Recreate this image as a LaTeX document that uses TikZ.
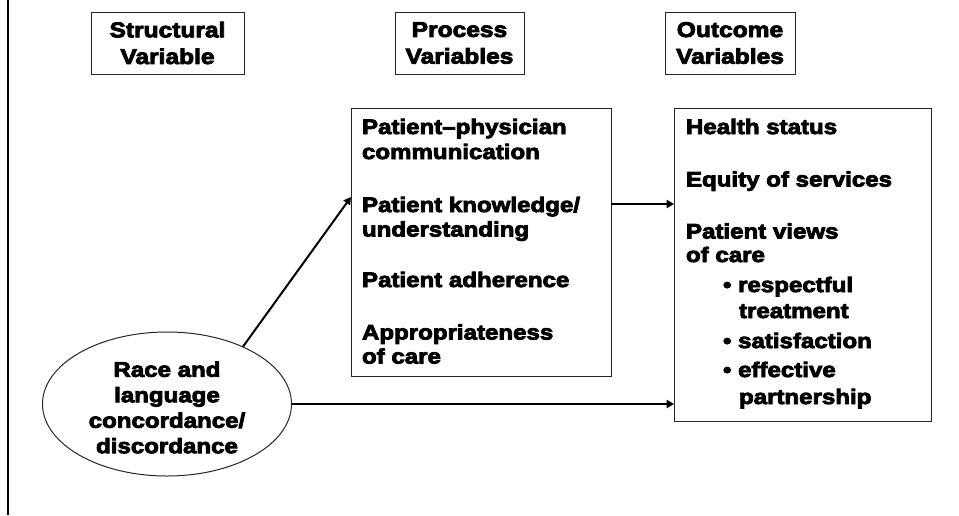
\documentclass[tikz,border=0pt]{standalone}
\usepackage{fontspec}
\setmainfont{Liberation Sans}[BoldFeatures={FakeStretch=1.15,FakeBold=4}]
\usetikzlibrary{arrows.meta,shapes.geometric}
\begin{document}
\begin{tikzpicture}[x=0.75pt,y=-0.75pt,
  every node/.style={font=\fontsize{15.7pt}{18pt}\selectfont\bfseries},
  frame/.style={draw=black!85,line width=0.75pt,inner sep=0pt,outer sep=0pt},
  hdr/.style={frame,align=center,minimum height=46.5pt,
    font=\fontsize{16pt}{20pt}\selectfont\bfseries},
  txt/.style={anchor=base west,inner sep=0pt,outer sep=0pt},
  conn/.style={line width=1.5pt,-{Triangle[length=5.5pt,width=6pt]}}]
\useasboundingbox (0,0) rectangle (959,515);

% left margin rule
\draw[line width=1.5pt] (8,0) -- (8,515);

% column headings
\node[hdr,minimum width=114.75pt] (hstruct) at (167.5,43) {Structural\\Variable};
\node[hdr,minimum width=96.75pt]  (hproc)   at (459.5,43) {Process\\Variables};
\node[hdr,minimum width=97.5pt]   (hout)    at (730,43)   {Outcome\\Variables};

% main boxes
\node[frame,minimum width=195pt,minimum height=201pt] (proc) at (481,242) {};
\node[frame,minimum width=192.75pt,minimum height=234.75pt] (out) at (802.5,264.5) {};
\node[frame,ellipse,minimum width=186.75pt,minimum height=108pt] (ell) at (167,404) {};
\node[align=center,inner sep=0pt,font=\fontsize{15.7pt}{19.1pt}\selectfont\bfseries]
  (elltxt) at (167,407.5) {Race and\\language\\concordance/\\discordance};

% process variables
\node[txt] (p1) at (362,134)   {Patient–physician};
\node[txt] (p2) at (362,159)   {communication};
\node[txt] (p3) at (362,212)   {Patient knowledge/};
\node[txt] (p4) at (362,236.5) {understanding};
\node[txt] (p5) at (362,287)   {Patient adherence};
\node[txt] (p6) at (362,339.5) {Appropriateness};
\node[txt] (p7) at (362,363.5) {of care};

% outcome variables
\node[txt] (o1) at (686,134)   {Health status};
\node[txt] (o2) at (686,186.5) {Equity of services};
\node[txt] (o3) at (686,238.5) {Patient views};
\node[txt] (o4) at (686,262)   {of care};
\node[txt] (o5) at (723,292)   {• respectful};
\node[txt] (o6) at (739,318)   {treatment};
\node[txt] (o7) at (723,348)   {• satisfaction};
\node[txt] (o8) at (723,377)   {• effective};
\node[txt] (o9) at (739,404)   {partnership};

% connectors
\coordinate (lvlA) at (0,197);
\coordinate (lvlB) at (0,204);
\draw[conn] (ell.37) -- (proc.west |- lvlA);
\draw[conn] (proc.east |- lvlB) -- (out.west |- lvlB);
\draw[conn] (ell.east) -- (out.west |- ell.east);
\end{tikzpicture}
\end{document}
